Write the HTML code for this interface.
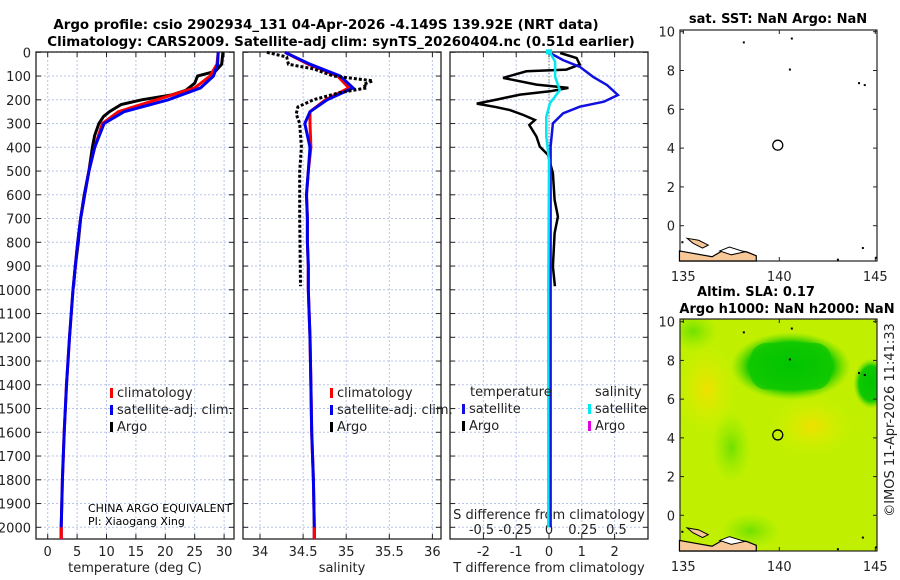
<!DOCTYPE html>
<html><head><meta charset="utf-8"><style>
body{margin:0;background:#fff;width:900px;height:580px;overflow:hidden}
svg{display:block;font-family:"DejaVu Sans","Liberation Sans",sans-serif}
</style></head><body>
<svg id="c" width="900" height="580" viewBox="0 0 900 580">
<defs>
<radialGradient id="gDark" cx="50%" cy="50%" r="50%"><stop offset="0" stop-color="#00c400"/><stop offset="0.7" stop-color="#10c800"/><stop offset="1" stop-color="#60d800" stop-opacity="0"/></radialGradient>
<radialGradient id="gYel" cx="50%" cy="50%" r="50%"><stop offset="0" stop-color="#f0e000"/><stop offset="1" stop-color="#d8f000" stop-opacity="0"/></radialGradient>
<radialGradient id="gGrn" cx="50%" cy="50%" r="50%"><stop offset="0" stop-color="#70e000"/><stop offset="1" stop-color="#90e800" stop-opacity="0"/></radialGradient>
<clipPath id="m2clip"><rect x="680" y="319" width="197" height="232"/></clipPath>
</defs>
</svg>
<script>
// ---- data ----
const depthTicks=[0,100,200,300,400,500,600,700,800,900,1000,1100,1200,1300,1400,1500,1600,1700,1800,1900,2000];
const tempTicks=[0,5,10,15,20,25,30];
const salTicks=[34,34.5,35,35.5,36];
const salTickLabels=["34","34.5","35","35.5","36"];
const tdTicks=[-2,-1,0,1,2];
const sdTicks=[-0.5,-0.25,0,0.25,0.5];
const sdTickLabels=["-0.5","-0.25","0","0.25","0.5"];
const climDepth=[0,50,100,150,200,250,300,400,500,600,700,800,900,1000,1200,1400,1600,1800,2000,2050];
const climTemp=[29.0,28.8,27.6,25.0,18.5,12.0,9.3,8.0,7.0,6.3,5.6,5.1,4.7,4.3,3.7,3.2,2.8,2.5,2.3,2.3];
const satTemp=[29.0,28.9,28.2,26.0,20.5,13.0,9.6,8.0,7.0,6.3,5.6,5.1,4.7,4.3,3.7,3.2,2.8,2.5,2.3,2.3];
const argoDepth=[0,50,80,100,130,160,180,200,220,250,270,300,350,400,500,600,700,800,900,985];
const argoTemp=[29.8,29.6,28.5,25.5,25.0,23.5,21.0,16.0,12.5,10.5,9.5,8.7,8.0,7.6,7.0,6.2,5.6,5.2,4.7,4.4];
const climSal=[34.29,34.56,34.90,35.03,34.76,34.58,34.58,34.59,34.56,34.54,34.55,34.55,34.56,34.56,34.58,34.59,34.60,34.62,34.63,34.63];
const satSal=[34.29,34.58,34.93,35.08,34.78,34.58,34.52,34.58,34.56,34.54,34.55,34.55,34.56,34.56,34.58,34.59,34.60,34.62,34.63,34.63];
const argoSalDepth=[0,20,50,70,100,120,135,150,170,200,230,260,300,400,500,700,985];
const argoSal=[34.08,34.31,34.33,34.62,34.85,35.31,35.20,35.24,34.92,34.62,34.44,34.42,34.46,34.48,34.46,34.46,34.47];
const tdSatDepth=[3,33,61,103,138,180,208,229,257,299,397,700,1000,1500,2000];
const tdSat=[0.03,0.43,0.94,1.34,1.77,2.1,1.67,0.94,0.43,0.12,0.05,0.05,0.05,0.05,0.05];
const tdArgoDepth=[3,24,52,73,80,108,136,150,164,178,199,216,231,243,264,285,306,355,397,432,509,621,692,762,902,972,985];
const tdArgo=[0.34,0.84,0.94,0.53,-0.69,-1.4,-0.38,0.59,0.03,-0.88,-1.6,-2.2,-1.6,-1.2,-0.78,-0.43,-0.6,-0.38,-0.28,-0.03,0.12,0.17,0.27,0.17,0.12,0.17,0.18];
const sdSatDepth=[0,40,103,159,215,271,355,453,1000,2000];
const sdSat=[0.007,0.045,0.045,0.08,0.007,-0.02,-0.02,0,-0.005,-0.005];

// ---- axes ----
const Y=d=>52.3+d*0.2375;
const XT=t=>47.7+t*5.88;
const XS=s=>260+(s-34)*86.2;
const XTD=t=>549+t*32.8;
const XSD=s=>549+s*135;
const svg=document.getElementById('c');
const NS='http://www.w3.org/2000/svg';
function mk(tag,attrs,parent){const e=document.createElementNS(NS,tag);for(const k in attrs)e.setAttribute(k,attrs[k]);(parent||svg).appendChild(e);return e;}
function txt(x,y,s,attrs,parent){const e=mk('text',Object.assign({x:x,y:y,'font-size':13,fill:'#222'},attrs||{}),parent);e.textContent=s;return e;}
function line(xs,ys,attrs){return mk('polyline',Object.assign({points:xs.map((x,i)=>x.toFixed(1)+','+ys[i].toFixed(1)).join(' '),fill:'none'},attrs));}

const panels=[{x0:36,x1:234,name:'temperature-panel'},{x0:243,x1:441,name:'salinity-panel'},{x0:450,x1:648,name:'difference-panel'}];
const pTop=52,pBot=539;
panels.forEach((p,pi)=>{
  const g=mk('g',{});
  
  
  depthTicks.forEach(d=>{mk('line',{x1:p.x0,x2:p.x1,y1:Y(d),y2:Y(d),stroke:'#b8c4e8','stroke-width':1,'stroke-dasharray':'2,2'},g);
    mk('line',{x1:p.x0,x2:p.x0+5,y1:Y(d),y2:Y(d),stroke:'#222'},g);mk('line',{x1:p.x1-5,x2:p.x1,y1:Y(d),y2:Y(d),stroke:'#222'},g);});
  let xt=pi==0?tempTicks.map(XT):pi==1?salTicks.map(XS):tdTicks.map(XTD);
  xt.forEach(x=>{mk('line',{x1:x,x2:x,y1:pTop,y2:pBot,stroke:'#b8c4e8','stroke-width':1,'stroke-dasharray':'2,2'},g);
    mk('line',{x1:x,x2:x,y1:pBot-5,y2:pBot,stroke:'#222'},g);mk('line',{x1:x,x2:x,y1:pTop,y2:pTop+5,stroke:'#222'},g);});
  mk('rect',{x:p.x0,y:pTop,width:p.x1-p.x0,height:pBot-pTop,fill:'none',stroke:'#222','stroke-width':1.3},g);
});
// depth labels
depthTicks.forEach(d=>{const t=txt(31,Y(d)+5,String(d),{'text-anchor':'end'});

});
tempTicks.forEach(v=>{const t=txt(XT(v),556,String(v),{'text-anchor':'middle'});

});
salTicks.forEach((v,i)=>{const t=txt(XS(v),556,salTickLabels[i],{'text-anchor':'middle'});

});
tdTicks.forEach(v=>{const t=txt(XTD(v),556,String(v),{'text-anchor':'middle'});

});
sdTicks.forEach((v,i)=>{const t=txt(XSD(v),534,sdTickLabels[i],{'text-anchor':'middle'});

});
txt(135,572,'temperature (deg C)',{'text-anchor':'middle'});
txt(342,572,'salinity',{'text-anchor':'middle'});
txt(549,572,'T difference from climatology',{'text-anchor':'middle'});
txt(549,519,'S difference from climatology',{'text-anchor':'middle'});
txt(326,29,'Argo profile: csio 2902934_131 04-Apr-2026 -4.149S 139.92E (NRT data)',{'text-anchor':'middle','font-weight':'bold','fill':'#000','font-size':13.4});
txt(341,46,'Climatology: CARS2009. Satellite-adj clim: synTS_20260404.nc (0.51d earlier)',{'text-anchor':'middle','font-weight':'bold','fill':'#000','font-size':13.4});

// ---- series ----
let s;
s=line(argoDepth.map((d,i)=>XT(argoTemp[i])),argoDepth.map(Y),{stroke:'#000','stroke-width':3});

s=line(climDepth.map((d,i)=>XT(climTemp[i])),climDepth.map(Y),{stroke:'#f00','stroke-width':3});

s=line(climDepth.map((d,i)=>XT(satTemp[i])),climDepth.map(Y),{stroke:'#0000f0','stroke-width':3});

s=line(climDepth.map((d,i)=>XS(climSal[i])),climDepth.map(Y),{stroke:'#f00','stroke-width':3});

s=line(climDepth.map((d,i)=>XS(satSal[i])),climDepth.map(Y),{stroke:'#0000f0','stroke-width':3});

s=line(argoSalDepth.map((d,i)=>XS(argoSal[i])),argoSalDepth.map(Y),{stroke:'#000','stroke-width':3,'stroke-dasharray':'3,2'});

mk('line',{x1:549,x2:549,y1:Y(0),y2:Y(450),stroke:'#556','stroke-width':1,'stroke-dasharray':'1,2'});
s=line(tdArgoDepth.map((d,i)=>XTD(tdArgo[i])),tdArgoDepth.map(Y),{stroke:'#000','stroke-width':2.5});

s=line(tdSatDepth.map((d,i)=>XTD(tdSat[i])),tdSatDepth.map(Y),{stroke:'#1010e0','stroke-width':2.5});

s=line(sdSatDepth.map((d,i)=>XSD(sdSat[i])),sdSatDepth.map(Y),{stroke:'#00e8f0','stroke-width':2.5});

mk('rect',{x:546,y:Y(0)-3,width:6,height:5,fill:'#00e8f0'});
// red bottom stubs
mk('line',{x1:XT(2.3),x2:XT(2.3),y1:Y(2000),y2:pBot,stroke:'#f00','stroke-width':3});
mk('line',{x1:XS(34.63),x2:XS(34.63),y1:Y(2000),y2:pBot,stroke:'#f00','stroke-width':3});

// ---- legends ----
function leg(x,y,col,label,name){const g=mk('g',{});


mk('rect',{x:x,y:y-9,width:3,height:10,fill:col},g);txt(x+7,y,label,{},g);}
leg(110,397,'#f00','climatology','legend-climatology-t');
leg(110,414,'#0000f0','satellite-adj. clim.','legend-satellite-t');
leg(110,431,'#000','Argo','legend-argo-t');
leg(330,397,'#f00','climatology','legend-climatology-s');
leg(330,414,'#0000f0','satellite-adj. clim.','legend-satellite-s');
leg(330,431,'#000','Argo','legend-argo-s');
txt(470,396,'temperature');
leg(462,413,'#1010e0','satellite','legend-tdiff-satellite');
leg(462,430,'#000','Argo','legend-tdiff-argo');
txt(595,396,'salinity');
leg(588,413,'#00e8f0','satellite','legend-sdiff-satellite');
leg(588,430,'#e000e0','Argo','legend-sdiff-argo');
txt(88,512,'CHINA ARGO EQUIVALENT',{'font-size':11,'fill':'#000'});
txt(88,525,'PI: Xiaogang Xing',{'font-size':11,'fill':'#000'});

// ---- maps ----
const lonTicks=[135,140,145];
const latTicks=[0,2,4,6,8,10];
function mapPanel(t,b,lat0y,lat10y,name,green){
  const LX=lon=>683.3+(lon-135)*19.2;
  const LY=lat=>lat0y+(lat10y-lat0y)*lat/10;
  const g=mk('g',{});
  
  
  if(green){const gg=mk('g',{'clip-path':'url(#m2clip)'},g);
    mk('rect',{x:680,y:t,width:197,height:b-t,fill:'#c0f000'},gg);
    mk('ellipse',{cx:LX(136.2),cy:LY(6.5),rx:30,ry:45,fill:'url(#gYel)'},gg);
    mk('ellipse',{cx:LX(141.7),cy:LY(4.6),rx:40,ry:30,fill:'url(#gYel)'},gg);
    mk('ellipse',{cx:LX(137.5),cy:LY(3.5),rx:20,ry:35,fill:'url(#gGrn)'},gg);
    mk('ellipse',{cx:LX(135.5),cy:LY(9.5),rx:25,ry:20,fill:'url(#gGrn)'},gg);
    mk('ellipse',{cx:LX(144.8),cy:LY(6.8),rx:18,ry:25,fill:'url(#gDark)'},gg);
    mk('rect',{x:LX(138.5),y:LY(8.9),width:LX(142.7)-LX(138.5),height:LY(6.5)-LY(8.9),rx:16,fill:'#10c400'},gg);
    mk('ellipse',{cx:LX(140.6),cy:LY(7.7),rx:60,ry:34,fill:'url(#gDark)'},gg);
    mk('ellipse',{cx:LX(138.5),cy:LY(-0.8),rx:30,ry:18,fill:'url(#gGrn)'},gg);
  }
  // land
  mk('path',{d:`M${LX(134.8)},${LY(-1.3)} L${LX(136.5)},${LY(-1.6)} L${LX(137.2)},${LY(-1.2)} L${LX(138.3)},${LY(-1.35)} L${LX(138.8)},${LY(-1.55)} L${LX(138.8)},${b} L${LX(134.8)},${b} Z`,fill:'#f8c898',stroke:'#000','stroke-width':1.2});
  mk('path',{d:`M${LX(136.9)},${LY(-1.3)} L${LX(137.4)},${LY(-1.1)} L${LX(138.2)},${LY(-1.35)} L${LX(137.5)},${LY(-1.5)} Z`,fill:'#fff',stroke:'#000','stroke-width':1});
  mk('path',{d:`M${LX(135.2)},${LY(-0.65)} L${LX(135.8)},${LY(-0.75)} L${LX(136.3)},${LY(-1.0)} L${LX(136.0)},${LY(-1.15)} L${LX(135.5)},${LY(-0.9)} Z`,fill:'#f8c898',stroke:'#000','stroke-width':1});
  [[138.1,9.5],[140.5,8.1],[144.1,7.4],[144.4,7.3],[140.6,9.7],[134.9,-0.8],[143,-1.7],[144.3,-1.1],[145,-1.6]].forEach(p=>mk('rect',{x:LX(p[0]),y:LY(p[1]),width:2,height:2,fill:'#000'}));
  const c=mk('circle',{cx:LX(139.92),cy:LY(4.15),r:5,fill:'none',stroke:'#000','stroke-width':1.3});
  
  
  mk('rect',{x:680,y:t,width:197,height:b-t,fill:'none',stroke:'#222','stroke-width':1.2},g);
  lonTicks.forEach(l=>{mk('line',{x1:LX(l),x2:LX(l),y1:b,y2:b-4,stroke:'#222'},g);mk('line',{x1:LX(l),x2:LX(l),y1:t,y2:t+4,stroke:'#222'},g);
    txt(LX(l),b+20,String(l),{'text-anchor':'middle'},g);});
  latTicks.forEach(l=>{mk('line',{x1:680,x2:684,y1:LY(l),y2:LY(l),stroke:'#222'},g);mk('line',{x1:873,x2:877,y1:LY(l),y2:LY(l),stroke:'#222'},g);
    txt(675,LY(l)+5,String(l),{'text-anchor':'end'},g);});
}
mapPanel(30,261,225.7,31.7,'sst-map',false);
mapPanel(319,551,515.3,321.7,'sla-map',true);
txt(778,23,'sat. SST: NaN Argo: NaN',{'text-anchor':'middle','font-weight':'bold','fill':'#000'});
txt(756,296,'Altim. SLA: 0.17',{'text-anchor':'middle','font-weight':'bold','fill':'#000'});
txt(787,313,'Argo h1000: NaN h2000: NaN',{'text-anchor':'middle','font-weight':'bold','fill':'#000'});
txt(0,0,'©IMOS 11-Apr-2026 11:41:33',{'text-anchor':'middle','transform':'translate(894,420) rotate(-90)'});
</script>
</body></html>
